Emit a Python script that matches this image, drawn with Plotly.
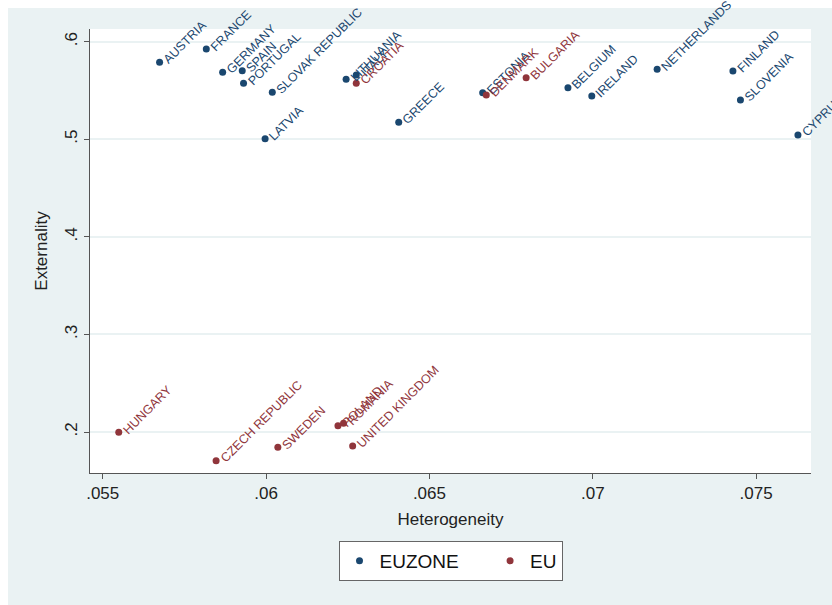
import plotly.graph_objects as go

# Euro-area members
euzone_names = ["AUSTRIA", "FRANCE", "GERMANY", "SPAIN", "PORTUGAL", "SLOVAK REPUBLIC",
                "LATVIA", "LITHUANIA", "ITALY", "GREECE", "ESTONIA", "BELGIUM", "IRELAND",
                "NETHERLANDS", "FINLAND", "SLOVENIA", "CYPRUS"]
euzone_het = [0.05674, 0.05817, 0.05867, 0.05927, 0.05931, 0.06019,
              0.05997, 0.06245, 0.06276, 0.06406, 0.06663, 0.06924, 0.06997,
              0.07197, 0.07429, 0.07452, 0.07628]
euzone_ext = [0.5789, 0.5925, 0.5686, 0.5703, 0.5574, 0.5482,
              0.5006, 0.5615, 0.5659, 0.5174, 0.5477, 0.5529, 0.5444,
              0.5717, 0.5700, 0.5403, 0.5044]

# EU members outside the euro area
eu_names = ["HUNGARY", "CZECH REPUBLIC", "SWEDEN", "POLAND", "ROMANIA",
            "UNITED KINGDOM", "CROATIA", "DENMARK", "BULGARIA"]
eu_het = [0.05549, 0.05847, 0.06036, 0.06220, 0.06237, 0.06265, 0.06276, 0.06674, 0.06796]
eu_ext = [0.1998, 0.1706, 0.1843, 0.2065, 0.2089, 0.1857, 0.5574, 0.5454, 0.5631]

x_ticks = [0.055, 0.06, 0.065, 0.07, 0.075]
x_ticklabels = [".055", ".06", ".065", ".07", ".075"]
y_ticks = [0.2, 0.3, 0.4, 0.5, 0.6]
y_ticklabels = [".2", ".3", ".4", ".5", ".6"]

BLUE = "#1a476f"
RED = "#90353b"
BG = "#eaf2f3"
FONT = "Liberation Sans, Arial, sans-serif"

fig = go.Figure()
# non-breaking spaces widen the first legend entry
fig.add_trace(go.Scatter(x=euzone_het, y=euzone_ext, mode="markers",
                         name="EUZONE" + "\u00a0" * 5,
                         marker=dict(color=BLUE, size=7)))
fig.add_trace(go.Scatter(x=eu_het, y=eu_ext, mode="markers", name="EU",
                         marker=dict(color=RED, size=7)))

# Country labels at 45 degrees, starting just right of each marker
for names, xs, ys, col in [(euzone_names, euzone_het, euzone_ext, BLUE),
                           (eu_names, eu_het, eu_ext, RED)]:
    for n, xv, yv in zip(names, xs, ys):
        fig.add_annotation(x=xv, y=yv, text=n, showarrow=False, textangle=-45,
                           xanchor="left", yanchor="bottom", xshift=0, yshift=-6,
                           font=dict(family=FONT, size=12.5, color=col),
                           borderpad=0)

W, H = 832, 605
L, R, T, B = 90, 21, 29, 132
pw, ph = W - L - R, H - T - B

def px_x(p):
    return (p - L) / pw

def px_y(p):
    return (H - B - p) / ph

# thin white border strips at top and left of the canvas
fig.add_shape(type="rect", xref="paper", yref="paper", x0=px_x(0), x1=px_x(W),
              y0=px_y(8), y1=px_y(0), fillcolor="white", line_width=0, layer="below")
fig.add_shape(type="rect", xref="paper", yref="paper", x0=px_x(0), x1=px_x(8),
              y0=px_y(H), y1=px_y(0), fillcolor="white", line_width=0, layer="below")

fig.update_layout(
    width=W, height=H,
    margin=dict(l=L, r=R, t=T, b=B, autoexpand=False),
    paper_bgcolor=BG, plot_bgcolor="white",
    font=dict(family=FONT, size=17, color="#222222"),
    showlegend=True,
    legend=dict(orientation="h", x=0.5, xanchor="center", y=px_y(541), yanchor="top",
                bgcolor="white", bordercolor="#666666", borderwidth=1,
                font=dict(family=FONT, size=19, color="#111111"),
                itemsizing="trace"),
    xaxis=dict(range=[0.05461, 0.07668], tickvals=x_ticks, ticktext=x_ticklabels,
               showgrid=False, zeroline=False, showline=True, linecolor="#555555",
               linewidth=1, ticks="outside", ticklen=5, tickcolor="#555555",
               tickfont=dict(size=17), title=dict(text="Heterogeneity", standoff=10,
                                                  font=dict(size=17))),
    yaxis=dict(range=[0.158, 0.613], tickvals=y_ticks, ticktext=y_ticklabels,
               showgrid=True, gridcolor=BG, gridwidth=1.5, zeroline=False,
               showline=True, linecolor="#555555", linewidth=1, ticks="outside",
               ticklen=5, tickcolor="#555555", tickangle=-90, tickfont=dict(size=17),
               title=dict(text="Externality", standoff=10, font=dict(size=17))),
)

fig.write_html("out.html")
